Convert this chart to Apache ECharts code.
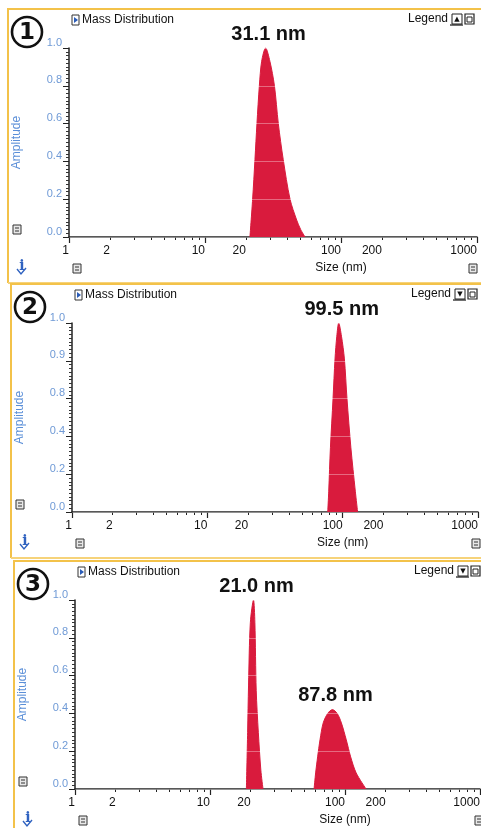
<!DOCTYPE html>
<html>
<head>
<meta charset="utf-8">
<title>Mass Distribution</title>
<script src="https://cdn.jsdelivr.net/npm/echarts@6/dist/echarts.min.js"></script>
<style>
  html, body { margin: 0; padding: 0; background: #fff; }
  #main { width: 481px; height: 828px; }
</style>
</head>
<body>
<div id="main"></div>
<script>
// size (nm) / amplitude pairs
const size1 = [21.4, 22.4, 23.3, 24.1, 25.1, 26.1, 27.9, 30.0, 32.4, 34.6, 37.6, 42.2, 47.2, 50.5, 54.4];
const amp1  = [0, 0.20, 0.41, 0.60, 0.80, 0.93, 1.00, 0.93, 0.80, 0.60, 0.41, 0.20, 0.09, 0.04, 0];

const size2 = [77.6, 78.9, 81.2, 84.9, 87.8, 90.5, 93.5, 98.0, 103, 107.6, 115, 124, 129];
const amp2  = [0, 0.11, 0.34, 0.60, 0.81, 0.93, 1.00, 0.93, 0.81, 0.60, 0.34, 0.11, 0];

const size3a = [18.6, 19.0, 19.3, 19.9, 21.0, 21.5, 22.0, 22.8, 23.8, 24.7];
const amp3a  = [0, 0.30, 0.55, 0.88, 1.00, 0.88, 0.52, 0.30, 0.10, 0];

const size3b = [59.0, 60.6, 62.7, 65.3, 69.0, 74.5, 80.7, 87.5, 94.0, 102.2, 110.1, 121, 143.2];
const amp3b  = [0, 0.085, 0.17, 0.26, 0.35, 0.40, 0.42, 0.40, 0.35, 0.26, 0.17, 0.085, 0];

const peakLabels = [['31.1 nm'], ['99.5 nm'], ['21.0 nm', '87.8 nm']];

// axis ticks / labels
const xLabelValues = [1, 2, 10, 20, 100, 200, 1000];
const xMajorTicks = [1, 10, 100, 1000];
const xMinorTicks = [];
[1, 10, 100].forEach(d => { for (let k = 1; k < 10; k++) xMinorTicks.push(d * k); });
xMinorTicks.push(1000);
const yTicks = [0, 0.2, 0.4, 0.6, 0.8, 1.0];
// the middle plot's scan reads 0.9 / 0.8 where 0.8 / 0.6 should be
const yTickText = [
  ['0.0', '0.2', '0.4', '0.6', '0.8', '1.0'],
  ['0.0', '0.2', '0.4', '0.8', '0.9', '1.0'],
  ['0.0', '0.2', '0.4', '0.6', '0.8', '1.0']
];

const seriesData = [
  [[size1, amp1]],
  [[size2, amp2]],
  [[size3a, amp3a], [size3b, amp3b]]
];

const RED = '#d91b3d';
const SANS = '"Liberation Sans", Arial, sans-serif';

// plot frame for each panel: y-axis x, top of plot, plot width
const panels = [
  {gx: 69, gt: 48, gw: 408},
  {gx: 72, gt: 323, gw: 406},
  {gx: 75, gt: 600, gw: 405}
];
const plotH = 189;

const grid = [], xAxis = [], yAxis = [], series = [], graphic = [];

panels.forEach((p, i) => {
  const gy = p.gt + plotH;
  grid.push({left: p.gx, top: p.gt, width: p.gw, height: plotH, outerBoundsMode: 'none'});

  xAxis.push({
    type: 'log', logBase: 10, gridIndex: i, min: 1, max: 1000, position: 'bottom',
    axisLine: {lineStyle: {color: '#222', width: 1.5}},
    axisTick: {customValues: xMinorTicks, length: 3, lineStyle: {color: '#222'}},
    minorTick: {show: false},
    splitLine: {show: false},
    axisLabel: {
      customValues: xLabelValues, align: 'right', margin: 8,
      color: '#111', fontSize: 12, fontFamily: SANS,
      formatter: v => String(Math.round(v))
    }
  });
  xAxis.push({
    type: 'log', logBase: 10, gridIndex: i, min: 1, max: 1000, position: 'bottom', offset: 0,
    axisLine: {show: false},
    axisTick: {customValues: xMajorTicks, length: 6, lineStyle: {color: '#222', width: 1.2}},
    axisLabel: {show: false},
    splitLine: {show: false}
  });

  yAxis.push({
    type: 'value', gridIndex: i, min: 0, max: 1, interval: 0.2, z: 3,
    name: 'Amplitude', nameLocation: 'middle', nameGap: 46,
    nameTextStyle: {color: '#5b8fd8', fontSize: 12, fontFamily: SANS},
    axisLine: {show: true, lineStyle: {color: '#222', width: 1.5}},
    axisTick: {show: true, length: 6, lineStyle: {color: '#222'}},
    minorTick: {show: true, splitNumber: 10, length: 3, lineStyle: {color: '#333'}},
    splitLine: {show: true, lineStyle: {color: 'rgba(255,255,255,0.35)', width: 1}},
    axisLabel: {
      color: '#6f9ad6', fontSize: 11, fontFamily: SANS, margin: 7,
      verticalAlign: 'bottom',
      formatter: v => yTickText[i][yTicks.findIndex(t => Math.abs(t - v) < 1e-6)]
    }
  });

  seriesData[i].forEach((d, j) => {
    const [xs, ys] = d;
    const pts = xs.map((x, k) => [x, ys[k]]);
    const top = ys.indexOf(Math.max(...ys));
    series.push({
      type: 'line', xAxisIndex: i * 2, yAxisIndex: i,
      data: pts, showSymbol: false, smooth: 0.3,
      lineStyle: {color: RED, width: 1},
      areaStyle: {color: RED, opacity: 1},
      z: 2,
      markPoint: {
        symbol: 'circle', symbolSize: 0,
        label: {
          show: true, position: 'top', distance: 4, offset: [3, 0],
          formatter: q => q.name,
          color: '#111', fontSize: 20, fontWeight: 'bold', fontFamily: SANS
        },
        data: [{name: peakLabels[i][j], coord: [xs[top], ys[top]]}]
      }
    });
  });

  // panel frame (scanned screenshot border)
  graphic.push({
    type: 'polyline', silent: true,
    shape: {points: [[p.gx - 61, gy + (i === 2 ? 60 : 46)], [p.gx - 61, p.gt - 39], [490, p.gt - 39]]},
    style: {fill: null, stroke: '#f3c24a', lineWidth: 2}
  });
  if (i < 2) {
    graphic.push({
      type: 'line', silent: true,
      shape: {x1: p.gx - 61, y1: gy + 46, x2: 481, y2: gy + 46},
      style: {stroke: '#f6d37a', lineWidth: 2}
    });
  }

  // circled panel number
  const cx = p.gx - 42, cy = p.gt - 16;
  graphic.push({type: 'circle', shape: {cx: cx, cy: cy, r: 15}, style: {fill: '#fff', stroke: '#111', lineWidth: 2.6}});
  graphic.push({type: 'text', x: cx, y: cy + 1, style: {text: String(i + 1), align: 'center', verticalAlign: 'middle', font: 'bold 23px "DejaVu Sans", sans-serif', fill: '#111'}});

  // title with its little expander icon
  const ty = p.gt - 28;
  graphic.push({type: 'rect', shape: {x: p.gx + 3, y: ty - 5, width: 7, height: 10}, style: {fill: '#fff', stroke: '#333', lineWidth: 1}});
  graphic.push({type: 'polygon', shape: {points: [[p.gx + 5, ty - 3], [p.gx + 9, ty], [p.gx + 5, ty + 3]]}, style: {fill: '#2a5cb8'}});
  graphic.push({type: 'text', x: p.gx + 13, y: ty, style: {text: 'Mass Distribution', verticalAlign: 'middle', font: '12px ' + SANS, fill: '#111'}});

  // "Legend" control, top right
  const lx = p.gx + 339, ly = p.gt - 29;
  graphic.push({type: 'text', x: lx, y: ly, style: {text: 'Legend', verticalAlign: 'middle', font: '12px ' + SANS, fill: '#111'}});
  graphic.push({type: 'rect', shape: {x: lx + 44, y: ly - 5, width: 10, height: 10}, style: {fill: '#fff', stroke: '#222', lineWidth: 1}});
  graphic.push({type: 'text', x: lx + 49, y: ly, style: {text: i === 0 ? '▲' : '▼', align: 'center', verticalAlign: 'middle', font: '7px "DejaVu Sans"', fill: '#111'}});
  graphic.push({type: 'line', shape: {x1: lx + 42, y1: ly + 6, x2: lx + 55, y2: ly + 6}, style: {stroke: '#111', lineWidth: 1.2}});
  graphic.push({type: 'rect', shape: {x: lx + 57, y: ly - 5, width: 9, height: 10}, style: {fill: '#fff', stroke: '#222', lineWidth: 1.2}});
  graphic.push({type: 'rect', shape: {x: lx + 59, y: ly - 2, width: 5, height: 5}, style: {fill: '#fff', stroke: '#222', lineWidth: 1}});

  // small scale-lock icons and the info glyph
  const icon = (x, y) => ([
    {type: 'rect', shape: {x: x, y: y, width: 8, height: 9}, style: {fill: '#e8e8e8', stroke: '#333', lineWidth: 1}},
    {type: 'line', shape: {x1: x + 2, y1: y + 3, x2: x + 6, y2: y + 3}, style: {stroke: '#333', lineWidth: 1}},
    {type: 'line', shape: {x1: x + 2, y1: y + 6, x2: x + 6, y2: y + 6}, style: {stroke: '#333', lineWidth: 1}}
  ]);
  graphic.push(...icon(p.gx - 56, gy - 12));
  graphic.push(...icon(p.gx + 4, gy + 27));
  graphic.push(...icon(p.gx + 400, gy + 27));
  graphic.push({type: 'text', x: p.gx - 47, y: gy + 29, style: {text: 'i', align: 'center', verticalAlign: 'middle', font: 'bold 14px "DejaVu Serif", serif', fill: '#2f62c0'}});
  graphic.push({type: 'polyline', shape: {points: [[p.gx - 52, gy + 32], [p.gx - 48, gy + 37], [p.gx - 43, gy + 31]]}, style: {fill: null, stroke: '#2f62c0', lineWidth: 1.4}});

  // x axis name, centred under the 100 tick
  graphic.push({type: 'text', x: p.gx + p.gw * 2 / 3, y: gy + 31, style: {text: 'Size (nm)', align: 'center', verticalAlign: 'middle', font: '12px ' + SANS, fill: '#111'}});
});

const chart = echarts.init(document.getElementById('main'), null, {renderer: 'canvas'});
chart.setOption({
  backgroundColor: '#fff',
  animation: false,
  grid: grid,
  xAxis: xAxis,
  yAxis: yAxis,
  series: series,
  graphic: graphic
});
</script>
</body>
</html>
